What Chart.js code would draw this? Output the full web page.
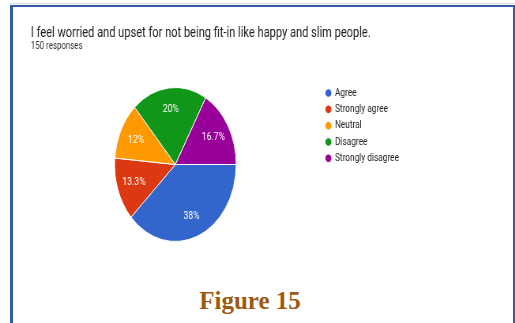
<!DOCTYPE html>
<html>
<head>
<meta charset="utf-8">
<script src="https://cdn.jsdelivr.net/npm/chart.js@4"></script>
<style>
    html, body { margin: 0; padding: 0; background: #fff; }
    body { width: 515px; height: 323px; position: relative; overflow: hidden; }
    .topLine { position: absolute; left: 10px; top: 3px; width: 505px; height: 1px; background: #d8dde6; }
    .frame {
        position: absolute; left: 10px; top: 5px; width: 500px; height: 330px;
        border-left: 3px solid #345ba5; border-top: 2px solid #345ba5; border-right: 3px solid #345ba5;
    }
    .chartBox {
        position: absolute; left: 0; top: 0; width: 660px; height: 270px;
        transform: scaleX(0.79); transform-origin: 0 0;
    }
    .caption {
        position: absolute; left: 0; width: 500px; top: 287px; text-align: center;
        font-family: "Liberation Serif", serif; font-weight: bold; font-size: 25px; color: #9c5a10;
    }
</style>
</head>
<body>
<div class="topLine"></div>
<div class="frame"></div>
<div class="chartBox"><canvas id="pieChart" width="660" height="270"></canvas></div>
<div class="caption">Figure 15</div>

<script>
// Survey answers (150 responses)
const answers = ['Agree', 'Strongly agree', 'Neutral', 'Disagree', 'Strongly disagree'];
const responses = [57, 20, 18, 30, 25];
const sliceColors = ['#3366cc', '#dc3912', '#ff9900', '#109618', '#990099'];

const questionText = 'I feel worried and upset for not being fit-in like happy and slim people.';
const responseText = '150 responses';

function percentLabel(value, total) {
    const pct = Math.round(value / total * 1000) / 10;
    return pct + '%';
}

// Percent labels drawn inside each slice
const sliceLabels = {
    id: 'sliceLabels',
    afterDatasetsDraw(chart) {
        const ctx = chart.ctx;
        const meta = chart.getDatasetMeta(0);
        const values = chart.data.datasets[0].data;
        const total = values.reduce((a, b) => a + b, 0);
        ctx.save();
        ctx.fillStyle = '#ffffff';
        ctx.font = '11px Roboto';
        ctx.textAlign = 'center';
        ctx.textBaseline = 'middle';
        meta.data.forEach((arc, i) => {
            const p = arc.getProps(['x', 'y', 'startAngle', 'endAngle', 'outerRadius'], true);
            const mid = (p.startAngle + p.endAngle) / 2;
            const r = p.outerRadius * 0.72;
            ctx.fillText(percentLabel(values[i], total), p.x + Math.cos(mid) * r, p.y + Math.sin(mid) * r);
        });
        ctx.restore();
    }
};

// Nudge the legend block up a little, like the Google Forms layout
const legendNudge = {
    id: 'legendNudge',
    afterLayout(chart) {
        chart.legend.top -= 5;
        chart.legend.left += 2;
    }
};

new Chart(document.getElementById('pieChart'), {
    type: 'pie',
    data: {
        labels: answers,
        datasets: [{
            data: responses,
            backgroundColor: sliceColors,
            borderColor: '#ffffff',
            borderWidth: 1
        }]
    },
    options: {
        responsive: false,
        animation: false,
        devicePixelRatio: 1,
        rotation: 90,
        layout: { padding: { left: 39, right: 147, top: 0, bottom: 28 } },
        plugins: {
            title: {
                display: true,
                text: questionText,
                align: 'start',
                color: '#202124',
                font: { family: 'Roboto', size: 14, weight: 'normal', lineHeight: 1 },
                padding: { top: 26, bottom: 0 }
            },
            subtitle: {
                display: true,
                text: responseText,
                align: 'start',
                color: '#333333',
                font: { family: 'Roboto', size: 10, lineHeight: 1 },
                padding: { top: 1, bottom: 36 }
            },
            legend: {
                position: 'right',
                align: 'start',
                fullSize: false,
                labels: {
                    usePointStyle: true,
                    pointStyle: 'circle',
                    boxWidth: 6,
                    boxHeight: 6,
                    padding: 5.8,
                    color: '#222222',
                    font: { family: 'Roboto', size: 10.5 }
                }
            },
            tooltip: { enabled: false }
        }
    },
    plugins: [sliceLabels, legendNudge]
});
</script>
</body>
</html>
